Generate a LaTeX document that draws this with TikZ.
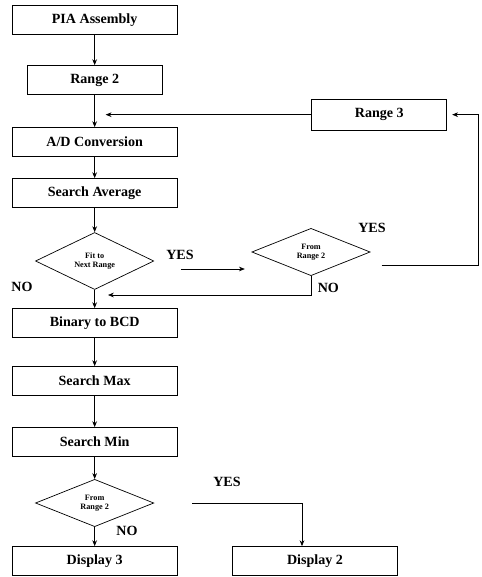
\documentclass[tikz,border=0pt]{standalone}
\usepackage{fontspec}
\setmainfont{Liberation Serif}
\usepackage{tikz}
\usetikzlibrary{positioning, arrows.meta, shapes.geometric}

\begin{document}
\begin{tikzpicture}[
      box/.style={draw=black, line width=0.6pt, minimum width=4.95cm,
                  minimum height=0.87cm, inner sep=0pt,
                  font=\fontsize{12}{14}\selectfont\bfseries},
      query/.style={draw=black, diamond, line width=0.6pt, inner sep=0pt,
                  minimum width=3.55cm, minimum height=1.42cm, align=center,
                  font=\fontsize{7}{7.5}\selectfont\bfseries},
      lbl/.style={font=\fontsize{12}{14}\selectfont\bfseries},
      arr/.style={-{Stealth[length=5pt, width=4pt]}, line width=0.6pt}
    ]
    \useasboundingbox (0,0) rectangle (14.46,-17.31);
    \node[box] (pia)   at (2.84,-0.60)  {PIA Assembly};
    \node[box, minimum width=4.05cm] (rtwo) at (2.84,-2.40) {Range 2};
    \node[box] (adc)   at (2.84,-4.26)  {A/D Conversion};
    \node[box] (savg)  at (2.84,-5.79)  {Search Average};
    \node[query] (fitq) at (2.84,-7.83) {Fit to\\Next Range};
    \node[box] (bcd)   at (2.84,-9.69)  {Binary to BCD};
    \node[box] (smax)  at (2.84,-11.43) {Search Max};
    \node[box] (smin)  at (2.84,-13.26) {Search Min};
    \node[query] (fromq3) at (2.84,-15.09) {From\\Range 2};
    \node[box] (dthree) at (2.84,-16.83) {Display 3};
    \node[box] (dtwo)  at (9.45,-16.83) {Display 2};
    \node[box, minimum width=4.05cm, minimum height=0.93cm] (rthree) at (11.38,-3.44) {Range 3};
    \node[query] (fromq2) at (9.33,-7.56) {From\\Range 2};
    \coordinate (rturn) at (14.34,-7.95);
    \coordinate (nojoin) at (2.84,-8.85);
    \node[lbl] (yesa) at (5.40,-7.65)  {YES};
    \node[lbl] (noa)  at (0.66,-8.61)  {NO};
    \node[lbl] (yesb) at (11.16,-6.84) {YES};
    \node[lbl] (nob)  at (9.85,-8.64)  {NO};
    \node[lbl] (yesc) at (6.81,-14.46) {YES};
    \node[lbl] (noc)  at (3.81,-15.93) {NO};
    \draw[arr] (pia) -- (rtwo);
    \draw[arr] (rtwo) -- (adc);
    \draw[arr] (adc) -- (savg);
    \draw[arr] (savg) -- (fitq);
    \draw[arr] (fitq) -- (bcd);
    \draw[arr] (bcd) -- (smax);
    \draw[arr] (smax) -- (smin);
    \draw[arr] (smin) -- (fromq3);
    \draw[arr] (fromq3) -- (dthree);
    \draw[arr, shorten <=0.8cm, shorten >=0.2cm] ([yshift=-0.24cm]fitq.east) -- ([yshift=-0.24cm]fitq.east -| fromq2.west);
    \draw[arr, shorten >=0.15cm] (rturn -| fromq2.east) ++(0.33,0) -- (rturn) |- (rthree.east);
    \draw[arr, shorten >=0.33cm] (rthree.west) -- (rthree.west -| adc.north);
    \draw[arr, shorten >=0.4cm] (fromq2.south) |- (nojoin);
    \draw[arr, shorten <=1.14cm] (fromq3.east) -| ([xshift=-0.39cm]dtwo.north);
  \end{tikzpicture}
\end{document}
